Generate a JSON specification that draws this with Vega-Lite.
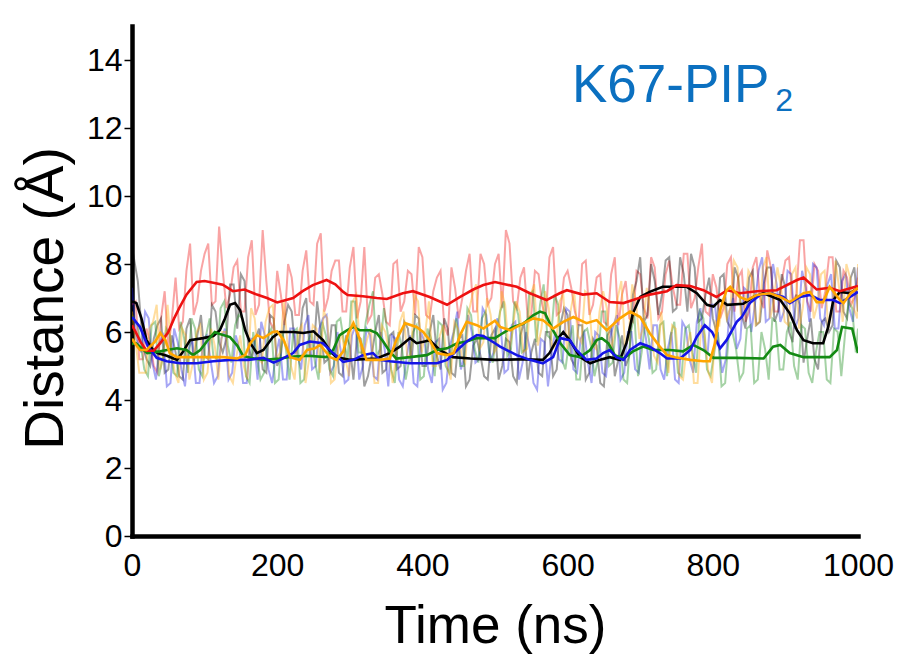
{
  "$schema": "https://vega.github.io/schema/vega-lite/v6.json",
  "width": 726,
  "height": 510,
  "autosize": {"type": "none"},
  "padding": {"left": 132, "top": 26, "right": 42, "bottom": 119},
  "background": "white",
  "config": {"view": {"stroke": null}, "font": "Liberation Sans"},
  "datasets": {
    "raw": [
      {"t":0,"d":6.8,"s":"run4"},{"t":10,"d":5.2,"s":"run4"},{"t":20,"d":6.1,"s":"run4"},{"t":30,"d":5.0,"s":"run4"},{"t":40,"d":6.4,"s":"run4"},{"t":50,"d":5.5,"s":"run4"},{"t":60,"d":7.6,"s":"run4"},{"t":70,"d":6.3,"s":"run4"},{"t":80,"d":8.6,"s":"run4"},{"t":90,"d":6.9,"s":"run4"},
      {"t":100,"d":8.3,"s":"run4"},{"t":110,"d":6.8,"s":"run4"},{"t":120,"d":9.1,"s":"run4"},{"t":130,"d":6.7,"s":"run4"},{"t":140,"d":7.9,"s":"run4"},{"t":150,"d":6.6,"s":"run4"},{"t":160,"d":8.2,"s":"run4"},{"t":170,"d":6.5,"s":"run4"},{"t":180,"d":9.0,"s":"run4"},{"t":190,"d":6.3,"s":"run4"},
      {"t":200,"d":7.8,"s":"run4"},{"t":210,"d":6.2,"s":"run4"},{"t":220,"d":7.6,"s":"run4"},{"t":230,"d":6.5,"s":"run4"},{"t":240,"d":8.4,"s":"run4"},{"t":250,"d":6.8,"s":"run4"},{"t":260,"d":8.9,"s":"run4"},{"t":270,"d":7.0,"s":"run4"},{"t":280,"d":8.1,"s":"run4"},{"t":290,"d":6.6,"s":"run4"},
      {"t":300,"d":7.9,"s":"run4"},{"t":310,"d":6.4,"s":"run4"},{"t":320,"d":8.5,"s":"run4"},{"t":330,"d":6.5,"s":"run4"},{"t":340,"d":7.7,"s":"run4"},{"t":350,"d":6.3,"s":"run4"},{"t":360,"d":8.0,"s":"run4"},{"t":370,"d":6.6,"s":"run4"},{"t":380,"d":7.8,"s":"run4"},{"t":390,"d":6.5,"s":"run4"},
      {"t":400,"d":8.2,"s":"run4"},{"t":410,"d":6.4,"s":"run4"},{"t":420,"d":7.6,"s":"run4"},{"t":430,"d":6.2,"s":"run4"},{"t":440,"d":7.9,"s":"run4"},{"t":450,"d":6.4,"s":"run4"},{"t":460,"d":7.8,"s":"run4"},{"t":470,"d":6.6,"s":"run4"},{"t":480,"d":8.3,"s":"run4"},{"t":490,"d":6.8,"s":"run4"},
      {"t":500,"d":8.0,"s":"run4"},{"t":510,"d":6.7,"s":"run4"},{"t":520,"d":8.6,"s":"run4"},{"t":530,"d":6.7,"s":"run4"},{"t":540,"d":7.9,"s":"run4"},{"t":550,"d":6.5,"s":"run4"},{"t":560,"d":7.7,"s":"run4"},{"t":570,"d":6.4,"s":"run4"},{"t":580,"d":8.5,"s":"run4"},{"t":590,"d":6.6,"s":"run4"},
      {"t":600,"d":7.8,"s":"run4"},{"t":610,"d":6.6,"s":"run4"},{"t":620,"d":8.0,"s":"run4"},{"t":630,"d":6.5,"s":"run4"},{"t":640,"d":7.6,"s":"run4"},{"t":650,"d":6.3,"s":"run4"},{"t":660,"d":7.7,"s":"run4"},{"t":670,"d":6.2,"s":"run4"},{"t":680,"d":7.5,"s":"run4"},{"t":690,"d":6.3,"s":"run4"},
      {"t":700,"d":7.7,"s":"run4"},{"t":710,"d":6.4,"s":"run4"},{"t":720,"d":7.9,"s":"run4"},{"t":730,"d":6.6,"s":"run4"},{"t":740,"d":8.1,"s":"run4"},{"t":750,"d":6.8,"s":"run4"},{"t":760,"d":8.3,"s":"run4"},{"t":770,"d":6.7,"s":"run4"},{"t":780,"d":7.9,"s":"run4"},{"t":790,"d":6.6,"s":"run4"},
      {"t":800,"d":7.7,"s":"run4"},{"t":810,"d":6.4,"s":"run4"},{"t":820,"d":8.0,"s":"run4"},{"t":830,"d":6.6,"s":"run4"},{"t":840,"d":7.8,"s":"run4"},{"t":850,"d":6.6,"s":"run4"},{"t":860,"d":8.2,"s":"run4"},{"t":870,"d":6.7,"s":"run4"},{"t":880,"d":7.9,"s":"run4"},{"t":890,"d":6.6,"s":"run4"},
      {"t":900,"d":8.1,"s":"run4"},{"t":910,"d":6.9,"s":"run4"},{"t":920,"d":8.7,"s":"run4"},{"t":930,"d":6.9,"s":"run4"},{"t":940,"d":8.0,"s":"run4"},{"t":950,"d":6.7,"s":"run4"},{"t":960,"d":8.2,"s":"run4"},{"t":970,"d":6.6,"s":"run4"},{"t":980,"d":7.8,"s":"run4"},{"t":990,"d":6.8,"s":"run4"},{"t":1000,"d":7.6,"s":"run4"},
      {"t":5,"d":6.9,"s":"run4"},{"t":15,"d":5.2,"s":"run4"},{"t":25,"d":5.7,"s":"run4"},{"t":35,"d":4.8,"s":"run4"},{"t":45,"d":7.2,"s":"run4"},{"t":55,"d":6.4,"s":"run4"},{"t":65,"d":6.1,"s":"run4"},{"t":75,"d":7.8,"s":"run4"},{"t":85,"d":6.5,"s":"run4"},{"t":95,"d":7.8,"s":"run4"},
      {"t":105,"d":8.6,"s":"run4"},{"t":115,"d":6.9,"s":"run4"},{"t":125,"d":7.8,"s":"run4"},{"t":135,"d":7.1,"s":"run4"},{"t":145,"d":8.1,"s":"run4"},{"t":155,"d":6.6,"s":"run4"},{"t":165,"d":8.7,"s":"run4"},{"t":175,"d":6.8,"s":"run4"},{"t":185,"d":7.5,"s":"run4"},{"t":195,"d":6.1,"s":"run4"},
      {"t":205,"d":7.1,"s":"run4"},{"t":215,"d":8.0,"s":"run4"},{"t":225,"d":6.5,"s":"run4"},{"t":235,"d":7.8,"s":"run4"},{"t":245,"d":6.9,"s":"run4"},{"t":255,"d":8.6,"s":"run4"},{"t":265,"d":6.6,"s":"run4"},{"t":275,"d":7.8,"s":"run4"},{"t":285,"d":8.1,"s":"run4"},{"t":295,"d":6.6,"s":"run4"},
      {"t":305,"d":8.5,"s":"run4"},{"t":315,"d":6.9,"s":"run4"},{"t":325,"d":6.3,"s":"run4"},{"t":335,"d":7.6,"s":"run4"},{"t":345,"d":7.1,"s":"run4"},{"t":355,"d":6.2,"s":"run4"},{"t":365,"d":8.1,"s":"run4"},{"t":375,"d":6.9,"s":"run4"},{"t":385,"d":7.7,"s":"run4"},{"t":395,"d":8.5,"s":"run4"},
      {"t":405,"d":6.5,"s":"run4"},{"t":415,"d":7.2,"s":"run4"},{"t":425,"d":7.8,"s":"run4"},{"t":435,"d":5.9,"s":"run4"},{"t":445,"d":7.3,"s":"run4"},{"t":455,"d":7.0,"s":"run4"},{"t":465,"d":8.3,"s":"run4"},{"t":475,"d":6.6,"s":"run4"},{"t":485,"d":8.0,"s":"run4"},{"t":495,"d":7.0,"s":"run4"},
      {"t":505,"d":8.3,"s":"run4"},{"t":515,"d":9.0,"s":"run4"},{"t":525,"d":6.9,"s":"run4"},{"t":535,"d":7.6,"s":"run4"},{"t":545,"d":6.4,"s":"run4"},{"t":555,"d":7.8,"s":"run4"},{"t":565,"d":6.8,"s":"run4"},{"t":575,"d":8.2,"s":"run4"},{"t":585,"d":6.5,"s":"run4"},{"t":595,"d":7.6,"s":"run4"},
      {"t":605,"d":7.3,"s":"run4"},{"t":615,"d":6.2,"s":"run4"},{"t":625,"d":8.1,"s":"run4"},{"t":635,"d":6.8,"s":"run4"},{"t":645,"d":7.7,"s":"run4"},{"t":655,"d":6.2,"s":"run4"},{"t":665,"d":8.2,"s":"run4"},{"t":675,"d":7.1,"s":"run4"},{"t":685,"d":6.4,"s":"run4"},{"t":695,"d":7.8,"s":"run4"},
      {"t":705,"d":6.7,"s":"run4"},{"t":715,"d":8.2,"s":"run4"},{"t":725,"d":6.4,"s":"run4"},{"t":735,"d":7.7,"s":"run4"},{"t":745,"d":7.3,"s":"run4"},{"t":755,"d":6.8,"s":"run4"},{"t":765,"d":8.3,"s":"run4"},{"t":775,"d":7.0,"s":"run4"},{"t":785,"d":8.6,"s":"run4"},{"t":795,"d":6.5,"s":"run4"},
      {"t":805,"d":7.3,"s":"run4"},{"t":815,"d":6.7,"s":"run4"},{"t":825,"d":8.2,"s":"run4"},{"t":835,"d":7.6,"s":"run4"},{"t":845,"d":6.3,"s":"run4"},{"t":855,"d":7.9,"s":"run4"},{"t":865,"d":7.0,"s":"run4"},{"t":875,"d":8.4,"s":"run4"},{"t":885,"d":6.6,"s":"run4"},{"t":895,"d":7.5,"s":"run4"},
      {"t":905,"d":8.2,"s":"run4"},{"t":915,"d":7.1,"s":"run4"},{"t":925,"d":8.7,"s":"run4"},{"t":935,"d":6.6,"s":"run4"},{"t":945,"d":7.8,"s":"run4"},{"t":955,"d":7.2,"s":"run4"},{"t":965,"d":8.2,"s":"run4"},{"t":975,"d":6.6,"s":"run4"},{"t":985,"d":7.6,"s":"run4"},{"t":995,"d":7.0,"s":"run4"},

      {"t":0,"d":8.5,"s":"run1"},{"t":15,"d":5.6,"s":"run1"},{"t":25,"d":5.0,"s":"run1"},{"t":35,"d":6.2,"s":"run1"},{"t":45,"d":4.8,"s":"run1"},{"t":55,"d":5.9,"s":"run1"},{"t":65,"d":4.7,"s":"run1"},{"t":75,"d":6.1,"s":"run1"},{"t":85,"d":5.1,"s":"run1"},{"t":95,"d":6.5,"s":"run1"},
      {"t":105,"d":5.2,"s":"run1"},{"t":115,"d":6.6,"s":"run1"},{"t":125,"d":5.4,"s":"run1"},{"t":135,"d":7.4,"s":"run1"},{"t":145,"d":6.1,"s":"run1"},{"t":155,"d":7.5,"s":"run1"},{"t":165,"d":5.2,"s":"run1"},{"t":175,"d":6.1,"s":"run1"},{"t":185,"d":4.8,"s":"run1"},{"t":195,"d":6.4,"s":"run1"},
      {"t":205,"d":5.3,"s":"run1"},{"t":215,"d":6.8,"s":"run1"},{"t":225,"d":5.4,"s":"run1"},{"t":235,"d":6.7,"s":"run1"},{"t":245,"d":5.3,"s":"run1"},{"t":255,"d":6.9,"s":"run1"},{"t":265,"d":5.1,"s":"run1"},{"t":275,"d":6.2,"s":"run1"},{"t":285,"d":4.8,"s":"run1"},{"t":295,"d":5.9,"s":"run1"},
      {"t":305,"d":4.6,"s":"run1"},{"t":315,"d":5.8,"s":"run1"},{"t":325,"d":4.7,"s":"run1"},{"t":335,"d":6.0,"s":"run1"},{"t":345,"d":4.8,"s":"run1"},{"t":355,"d":5.9,"s":"run1"},{"t":365,"d":4.9,"s":"run1"},{"t":375,"d":6.3,"s":"run1"},{"t":385,"d":5.1,"s":"run1"},{"t":395,"d":6.4,"s":"run1"},
      {"t":405,"d":5.0,"s":"run1"},{"t":415,"d":6.5,"s":"run1"},{"t":425,"d":4.9,"s":"run1"},{"t":435,"d":6.1,"s":"run1"},{"t":445,"d":4.7,"s":"run1"},{"t":455,"d":5.9,"s":"run1"},{"t":465,"d":4.6,"s":"run1"},{"t":475,"d":5.8,"s":"run1"},{"t":485,"d":4.7,"s":"run1"},{"t":495,"d":5.9,"s":"run1"},
      {"t":505,"d":4.6,"s":"run1"},{"t":515,"d":5.8,"s":"run1"},{"t":525,"d":4.7,"s":"run1"},{"t":535,"d":5.9,"s":"run1"},{"t":545,"d":4.6,"s":"run1"},{"t":555,"d":5.8,"s":"run1"},{"t":565,"d":4.7,"s":"run1"},{"t":575,"d":6.0,"s":"run1"},{"t":585,"d":4.9,"s":"run1"},{"t":595,"d":6.7,"s":"run1"},
      {"t":605,"d":5.2,"s":"run1"},{"t":615,"d":6.2,"s":"run1"},{"t":625,"d":4.6,"s":"run1"},{"t":635,"d":5.8,"s":"run1"},{"t":645,"d":4.5,"s":"run1"},{"t":655,"d":5.9,"s":"run1"},{"t":665,"d":4.7,"s":"run1"},{"t":675,"d":5.9,"s":"run1"},{"t":685,"d":5.3,"s":"run1"},{"t":695,"d":7.5,"s":"run1"},
      {"t":705,"d":6.3,"s":"run1"},{"t":715,"d":8.0,"s":"run1"},{"t":725,"d":6.5,"s":"run1"},{"t":735,"d":8.1,"s":"run1"},{"t":745,"d":6.6,"s":"run1"},{"t":755,"d":8.2,"s":"run1"},{"t":765,"d":6.6,"s":"run1"},{"t":775,"d":7.9,"s":"run1"},{"t":785,"d":6.4,"s":"run1"},{"t":795,"d":7.6,"s":"run1"},
      {"t":805,"d":6.0,"s":"run1"},{"t":815,"d":7.7,"s":"run1"},{"t":825,"d":6.1,"s":"run1"},{"t":835,"d":7.6,"s":"run1"},{"t":845,"d":6.1,"s":"run1"},{"t":855,"d":7.8,"s":"run1"},{"t":865,"d":6.3,"s":"run1"},{"t":875,"d":7.9,"s":"run1"},{"t":885,"d":6.3,"s":"run1"},{"t":895,"d":7.7,"s":"run1"},
      {"t":905,"d":6.0,"s":"run1"},{"t":915,"d":7.1,"s":"run1"},{"t":925,"d":5.1,"s":"run1"},{"t":935,"d":6.4,"s":"run1"},{"t":945,"d":4.9,"s":"run1"},{"t":955,"d":6.4,"s":"run1"},{"t":965,"d":6.2,"s":"run1"},{"t":975,"d":7.9,"s":"run1"},{"t":985,"d":6.4,"s":"run1"},{"t":995,"d":7.9,"s":"run1"},{"t":1000,"d":6.6,"s":"run1"},
      {"t":8,"d":7.5,"s":"run1"},{"t":20,"d":5.2,"s":"run1"},{"t":30,"d":5.8,"s":"run1"},{"t":40,"d":6.4,"s":"run1"},{"t":50,"d":4.9,"s":"run1"},{"t":60,"d":5.4,"s":"run1"},{"t":70,"d":4.6,"s":"run1"},{"t":80,"d":6.4,"s":"run1"},{"t":90,"d":5.9,"s":"run1"},{"t":100,"d":5.3,"s":"run1"},
      {"t":110,"d":6.8,"s":"run1"},{"t":120,"d":5.7,"s":"run1"},{"t":130,"d":5.8,"s":"run1"},{"t":140,"d":7.4,"s":"run1"},{"t":150,"d":7.7,"s":"run1"},{"t":160,"d":5.6,"s":"run1"},{"t":170,"d":5.8,"s":"run1"},{"t":180,"d":4.9,"s":"run1"},{"t":190,"d":6.5,"s":"run1"},{"t":200,"d":5.0,"s":"run1"},
      {"t":210,"d":6.3,"s":"run1"},{"t":220,"d":6.6,"s":"run1"},{"t":230,"d":5.6,"s":"run1"},{"t":240,"d":7.0,"s":"run1"},{"t":250,"d":5.3,"s":"run1"},{"t":260,"d":6.0,"s":"run1"},{"t":270,"d":5.2,"s":"run1"},{"t":280,"d":6.2,"s":"run1"},{"t":290,"d":4.7,"s":"run1"},{"t":300,"d":5.6,"s":"run1"},
      {"t":310,"d":5.9,"s":"run1"},{"t":320,"d":4.4,"s":"run1"},{"t":330,"d":5.3,"s":"run1"},{"t":340,"d":6.5,"s":"run1"},{"t":350,"d":4.9,"s":"run1"},{"t":360,"d":6.0,"s":"run1"},{"t":370,"d":5.0,"s":"run1"},{"t":380,"d":6.1,"s":"run1"},{"t":390,"d":6.5,"s":"run1"},{"t":400,"d":5.0,"s":"run1"},
      {"t":410,"d":6.0,"s":"run1"},{"t":420,"d":5.3,"s":"run1"},{"t":430,"d":6.4,"s":"run1"},{"t":440,"d":4.8,"s":"run1"},{"t":450,"d":5.8,"s":"run1"},{"t":460,"d":4.4,"s":"run1"},{"t":470,"d":5.6,"s":"run1"},{"t":480,"d":5.3,"s":"run1"},{"t":490,"d":4.6,"s":"run1"},{"t":500,"d":6.1,"s":"run1"},
      {"t":510,"d":5.0,"s":"run1"},{"t":520,"d":5.7,"s":"run1"},{"t":530,"d":4.5,"s":"run1"},{"t":540,"d":6.3,"s":"run1"},{"t":550,"d":5.4,"s":"run1"},{"t":560,"d":4.8,"s":"run1"},{"t":570,"d":6.0,"s":"run1"},{"t":580,"d":4.7,"s":"run1"},{"t":590,"d":6.2,"s":"run1"},{"t":600,"d":6.5,"s":"run1"},
      {"t":610,"d":5.0,"s":"run1"},{"t":620,"d":6.2,"s":"run1"},{"t":630,"d":4.8,"s":"run1"},{"t":640,"d":5.6,"s":"run1"},{"t":650,"d":4.4,"s":"run1"},{"t":660,"d":6.1,"s":"run1"},{"t":670,"d":5.2,"s":"run1"},{"t":680,"d":5.0,"s":"run1"},{"t":690,"d":7.1,"s":"run1"},{"t":700,"d":8.2,"s":"run1"},
      {"t":710,"d":6.5,"s":"run1"},{"t":720,"d":7.5,"s":"run1"},{"t":730,"d":7.1,"s":"run1"},{"t":740,"d":8.2,"s":"run1"},{"t":750,"d":6.7,"s":"run1"},{"t":760,"d":7.7,"s":"run1"},{"t":770,"d":8.3,"s":"run1"},{"t":780,"d":6.3,"s":"run1"},{"t":790,"d":7.1,"s":"run1"},{"t":800,"d":6.4,"s":"run1"},
      {"t":810,"d":7.6,"s":"run1"},{"t":820,"d":6.3,"s":"run1"},{"t":830,"d":7.9,"s":"run1"},{"t":840,"d":6.5,"s":"run1"},{"t":850,"d":7.6,"s":"run1"},{"t":860,"d":6.2,"s":"run1"},{"t":870,"d":7.4,"s":"run1"},{"t":880,"d":7.9,"s":"run1"},{"t":890,"d":6.6,"s":"run1"},{"t":900,"d":7.3,"s":"run1"},
      {"t":910,"d":5.7,"s":"run1"},{"t":920,"d":6.8,"s":"run1"},{"t":930,"d":5.8,"s":"run1"},{"t":940,"d":5.2,"s":"run1"},{"t":950,"d":6.3,"s":"run1"},{"t":960,"d":6.0,"s":"run1"},{"t":970,"d":8.1,"s":"run1"},{"t":980,"d":6.6,"s":"run1"},{"t":990,"d":7.6,"s":"run1"},

      {"t":0,"d":7.3,"s":"run3"},{"t":13,"d":5.4,"s":"run3"},{"t":23,"d":6.4,"s":"run3"},{"t":33,"d":4.6,"s":"run3"},{"t":43,"d":5.9,"s":"run3"},{"t":53,"d":4.5,"s":"run3"},{"t":63,"d":5.7,"s":"run3"},{"t":73,"d":4.4,"s":"run3"},{"t":83,"d":5.8,"s":"run3"},{"t":93,"d":4.5,"s":"run3"},
      {"t":103,"d":5.9,"s":"run3"},{"t":113,"d":4.5,"s":"run3"},{"t":123,"d":5.8,"s":"run3"},{"t":133,"d":4.6,"s":"run3"},{"t":143,"d":5.9,"s":"run3"},{"t":153,"d":4.5,"s":"run3"},{"t":163,"d":5.8,"s":"run3"},{"t":173,"d":4.6,"s":"run3"},{"t":183,"d":5.9,"s":"run3"},{"t":193,"d":4.5,"s":"run3"},
      {"t":203,"d":5.8,"s":"run3"},{"t":213,"d":4.6,"s":"run3"},{"t":223,"d":6.1,"s":"run3"},{"t":233,"d":4.9,"s":"run3"},{"t":243,"d":6.5,"s":"run3"},{"t":253,"d":5.0,"s":"run3"},{"t":263,"d":6.4,"s":"run3"},{"t":273,"d":4.8,"s":"run3"},{"t":283,"d":6.0,"s":"run3"},{"t":293,"d":4.5,"s":"run3"},
      {"t":303,"d":5.9,"s":"run3"},{"t":313,"d":4.6,"s":"run3"},{"t":323,"d":6.1,"s":"run3"},{"t":333,"d":4.7,"s":"run3"},{"t":343,"d":6.0,"s":"run3"},{"t":353,"d":4.4,"s":"run3"},{"t":363,"d":5.8,"s":"run3"},{"t":373,"d":4.4,"s":"run3"},{"t":383,"d":5.9,"s":"run3"},{"t":393,"d":4.4,"s":"run3"},
      {"t":403,"d":5.7,"s":"run3"},{"t":413,"d":4.5,"s":"run3"},{"t":423,"d":5.8,"s":"run3"},{"t":433,"d":4.5,"s":"run3"},{"t":443,"d":6.0,"s":"run3"},{"t":453,"d":4.9,"s":"run3"},{"t":463,"d":6.5,"s":"run3"},{"t":473,"d":5.1,"s":"run3"},{"t":483,"d":6.7,"s":"run3"},{"t":493,"d":5.1,"s":"run3"},
      {"t":503,"d":6.4,"s":"run3"},{"t":513,"d":4.8,"s":"run3"},{"t":523,"d":6.2,"s":"run3"},{"t":533,"d":4.6,"s":"run3"},{"t":543,"d":6.0,"s":"run3"},{"t":553,"d":4.5,"s":"run3"},{"t":563,"d":5.8,"s":"run3"},{"t":573,"d":4.4,"s":"run3"},{"t":583,"d":6.0,"s":"run3"},{"t":593,"d":5.1,"s":"run3"},
      {"t":603,"d":6.6,"s":"run3"},{"t":613,"d":4.8,"s":"run3"},{"t":623,"d":6.0,"s":"run3"},{"t":633,"d":4.5,"s":"run3"},{"t":643,"d":5.9,"s":"run3"},{"t":653,"d":4.7,"s":"run3"},{"t":663,"d":6.2,"s":"run3"},{"t":673,"d":4.6,"s":"run3"},{"t":683,"d":6.0,"s":"run3"},{"t":693,"d":4.9,"s":"run3"},
      {"t":703,"d":6.4,"s":"run3"},{"t":713,"d":4.9,"s":"run3"},{"t":723,"d":6.2,"s":"run3"},{"t":733,"d":4.6,"s":"run3"},{"t":743,"d":6.0,"s":"run3"},{"t":753,"d":4.5,"s":"run3"},{"t":763,"d":6.1,"s":"run3"},{"t":773,"d":4.8,"s":"run3"},{"t":783,"d":6.7,"s":"run3"},{"t":793,"d":5.4,"s":"run3"},
      {"t":803,"d":6.8,"s":"run3"},{"t":813,"d":4.8,"s":"run3"},{"t":823,"d":6.6,"s":"run3"},{"t":833,"d":5.5,"s":"run3"},{"t":843,"d":7.3,"s":"run3"},{"t":853,"d":6.0,"s":"run3"},{"t":863,"d":7.8,"s":"run3"},{"t":873,"d":6.3,"s":"run3"},{"t":883,"d":8.0,"s":"run3"},{"t":893,"d":6.3,"s":"run3"},
      {"t":903,"d":7.8,"s":"run3"},{"t":913,"d":6.1,"s":"run3"},{"t":923,"d":7.8,"s":"run3"},{"t":933,"d":6.3,"s":"run3"},{"t":943,"d":7.9,"s":"run3"},{"t":953,"d":6.2,"s":"run3"},{"t":963,"d":7.7,"s":"run3"},{"t":973,"d":6.1,"s":"run3"},{"t":983,"d":7.7,"s":"run3"},{"t":993,"d":6.3,"s":"run3"},{"t":1000,"d":7.9,"s":"run3"},
      {"t":6,"d":5.8,"s":"run3"},{"t":18,"d":6.6,"s":"run3"},{"t":28,"d":5.1,"s":"run3"},{"t":38,"d":5.7,"s":"run3"},{"t":48,"d":4.4,"s":"run3"},{"t":58,"d":6.1,"s":"run3"},{"t":68,"d":4.9,"s":"run3"},{"t":78,"d":5.5,"s":"run3"},{"t":88,"d":4.5,"s":"run3"},{"t":98,"d":5.8,"s":"run3"},
      {"t":108,"d":5.2,"s":"run3"},{"t":118,"d":4.7,"s":"run3"},{"t":128,"d":6.1,"s":"run3"},{"t":138,"d":4.8,"s":"run3"},{"t":148,"d":5.5,"s":"run3"},{"t":158,"d":4.5,"s":"run3"},{"t":168,"d":5.8,"s":"run3"},{"t":178,"d":6.3,"s":"run3"},{"t":188,"d":4.9,"s":"run3"},{"t":198,"d":5.3,"s":"run3"},
      {"t":208,"d":4.6,"s":"run3"},{"t":218,"d":6.1,"s":"run3"},{"t":228,"d":5.3,"s":"run3"},{"t":238,"d":6.2,"s":"run3"},{"t":248,"d":4.9,"s":"run3"},{"t":258,"d":6.1,"s":"run3"},{"t":268,"d":6.5,"s":"run3"},{"t":278,"d":5.0,"s":"run3"},{"t":288,"d":5.4,"s":"run3"},{"t":298,"d":4.6,"s":"run3"},
      {"t":308,"d":6.2,"s":"run3"},{"t":318,"d":5.0,"s":"run3"},{"t":328,"d":5.9,"s":"run3"},{"t":338,"d":4.6,"s":"run3"},{"t":348,"d":5.5,"s":"run3"},{"t":358,"d":5.9,"s":"run3"},{"t":368,"d":4.6,"s":"run3"},{"t":378,"d":5.2,"s":"run3"},{"t":388,"d":4.5,"s":"run3"},{"t":398,"d":6.0,"s":"run3"},
      {"t":408,"d":4.9,"s":"run3"},{"t":418,"d":5.7,"s":"run3"},{"t":428,"d":4.3,"s":"run3"},{"t":438,"d":5.6,"s":"run3"},{"t":448,"d":6.6,"s":"run3"},{"t":458,"d":5.3,"s":"run3"},{"t":468,"d":6.0,"s":"run3"},{"t":478,"d":5.2,"s":"run3"},{"t":488,"d":6.5,"s":"run3"},{"t":498,"d":5.4,"s":"run3"},
      {"t":508,"d":6.1,"s":"run3"},{"t":518,"d":4.9,"s":"run3"},{"t":528,"d":6.3,"s":"run3"},{"t":538,"d":5.1,"s":"run3"},{"t":548,"d":5.5,"s":"run3"},{"t":558,"d":4.3,"s":"run3"},{"t":568,"d":5.7,"s":"run3"},{"t":578,"d":5.4,"s":"run3"},{"t":588,"d":5.2,"s":"run3"},{"t":598,"d":6.7,"s":"run3"},
      {"t":608,"d":4.9,"s":"run3"},{"t":618,"d":5.8,"s":"run3"},{"t":628,"d":5.1,"s":"run3"},{"t":638,"d":6.0,"s":"run3"},{"t":648,"d":4.8,"s":"run3"},{"t":658,"d":5.8,"s":"run3"},{"t":668,"d":6.5,"s":"run3"},{"t":678,"d":4.8,"s":"run3"},{"t":688,"d":6.0,"s":"run3"},{"t":698,"d":4.8,"s":"run3"},
      {"t":708,"d":5.8,"s":"run3"},{"t":718,"d":6.2,"s":"run3"},{"t":728,"d":4.9,"s":"run3"},{"t":738,"d":5.5,"s":"run3"},{"t":748,"d":4.6,"s":"run3"},{"t":758,"d":6.3,"s":"run3"},{"t":768,"d":5.2,"s":"run3"},{"t":778,"d":6.3,"s":"run3"},{"t":788,"d":5.5,"s":"run3"},{"t":798,"d":6.8,"s":"run3"},
      {"t":808,"d":5.7,"s":"run3"},{"t":818,"d":5.2,"s":"run3"},{"t":828,"d":7.0,"s":"run3"},{"t":838,"d":5.8,"s":"run3"},{"t":848,"d":7.2,"s":"run3"},{"t":858,"d":6.8,"s":"run3"},{"t":868,"d":8.2,"s":"run3"},{"t":878,"d":6.4,"s":"run3"},{"t":888,"d":7.4,"s":"run3"},{"t":898,"d":6.6,"s":"run3"},
      {"t":908,"d":7.7,"s":"run3"},{"t":918,"d":6.4,"s":"run3"},{"t":928,"d":7.3,"s":"run3"},{"t":938,"d":8.0,"s":"run3"},{"t":948,"d":6.4,"s":"run3"},{"t":958,"d":7.4,"s":"run3"},{"t":968,"d":6.1,"s":"run3"},{"t":978,"d":7.5,"s":"run3"},{"t":988,"d":6.7,"s":"run3"},

      {"t":0,"d":6.5,"s":"run2"},{"t":17,"d":4.9,"s":"run2"},{"t":27,"d":6.2,"s":"run2"},{"t":37,"d":4.7,"s":"run2"},{"t":47,"d":6.1,"s":"run2"},{"t":57,"d":4.8,"s":"run2"},{"t":67,"d":6.3,"s":"run2"},{"t":77,"d":4.8,"s":"run2"},{"t":87,"d":6.1,"s":"run2"},{"t":97,"d":4.7,"s":"run2"},
      {"t":107,"d":6.4,"s":"run2"},{"t":117,"d":5.2,"s":"run2"},{"t":127,"d":6.9,"s":"run2"},{"t":137,"d":5.1,"s":"run2"},{"t":147,"d":6.5,"s":"run2"},{"t":157,"d":4.7,"s":"run2"},{"t":167,"d":6.0,"s":"run2"},{"t":177,"d":4.6,"s":"run2"},{"t":187,"d":5.9,"s":"run2"},{"t":197,"d":4.5,"s":"run2"},
      {"t":207,"d":6.0,"s":"run2"},{"t":217,"d":4.6,"s":"run2"},{"t":227,"d":6.1,"s":"run2"},{"t":237,"d":4.6,"s":"run2"},{"t":247,"d":6.0,"s":"run2"},{"t":257,"d":4.6,"s":"run2"},{"t":267,"d":5.9,"s":"run2"},{"t":277,"d":4.7,"s":"run2"},{"t":287,"d":6.4,"s":"run2"},{"t":297,"d":5.2,"s":"run2"},
      {"t":307,"d":6.9,"s":"run2"},{"t":317,"d":5.4,"s":"run2"},{"t":327,"d":6.8,"s":"run2"},{"t":337,"d":5.3,"s":"run2"},{"t":347,"d":6.7,"s":"run2"},{"t":357,"d":4.9,"s":"run2"},{"t":367,"d":6.0,"s":"run2"},{"t":377,"d":4.6,"s":"run2"},{"t":387,"d":6.0,"s":"run2"},{"t":397,"d":4.6,"s":"run2"},
      {"t":407,"d":6.1,"s":"run2"},{"t":417,"d":4.7,"s":"run2"},{"t":427,"d":6.2,"s":"run2"},{"t":437,"d":4.8,"s":"run2"},{"t":447,"d":6.4,"s":"run2"},{"t":457,"d":5.0,"s":"run2"},{"t":467,"d":6.5,"s":"run2"},{"t":477,"d":5.1,"s":"run2"},{"t":487,"d":6.6,"s":"run2"},{"t":497,"d":5.1,"s":"run2"},
      {"t":507,"d":6.6,"s":"run2"},{"t":517,"d":5.3,"s":"run2"},{"t":527,"d":6.9,"s":"run2"},{"t":537,"d":5.4,"s":"run2"},{"t":547,"d":7.1,"s":"run2"},{"t":557,"d":5.7,"s":"run2"},{"t":567,"d":7.4,"s":"run2"},{"t":577,"d":5.8,"s":"run2"},{"t":587,"d":6.8,"s":"run2"},{"t":597,"d":4.9,"s":"run2"},
      {"t":607,"d":6.2,"s":"run2"},{"t":617,"d":4.6,"s":"run2"},{"t":627,"d":6.1,"s":"run2"},{"t":637,"d":4.7,"s":"run2"},{"t":647,"d":6.6,"s":"run2"},{"t":657,"d":5.0,"s":"run2"},{"t":667,"d":6.2,"s":"run2"},{"t":677,"d":4.6,"s":"run2"},{"t":687,"d":6.0,"s":"run2"},{"t":697,"d":4.7,"s":"run2"},
      {"t":707,"d":6.3,"s":"run2"},{"t":717,"d":4.8,"s":"run2"},{"t":727,"d":6.2,"s":"run2"},{"t":737,"d":4.7,"s":"run2"},{"t":747,"d":6.3,"s":"run2"},{"t":757,"d":4.7,"s":"run2"},{"t":767,"d":6.2,"s":"run2"},{"t":777,"d":4.8,"s":"run2"},{"t":787,"d":6.4,"s":"run2"},{"t":797,"d":4.7,"s":"run2"},
      {"t":807,"d":6.0,"s":"run2"},{"t":817,"d":4.5,"s":"run2"},{"t":827,"d":6.0,"s":"run2"},{"t":837,"d":4.6,"s":"run2"},{"t":847,"d":6.1,"s":"run2"},{"t":857,"d":4.5,"s":"run2"},{"t":867,"d":6.0,"s":"run2"},{"t":877,"d":4.6,"s":"run2"},{"t":887,"d":6.3,"s":"run2"},{"t":897,"d":4.9,"s":"run2"},
      {"t":907,"d":6.3,"s":"run2"},{"t":917,"d":4.6,"s":"run2"},{"t":927,"d":6.1,"s":"run2"},{"t":937,"d":4.5,"s":"run2"},{"t":947,"d":6.0,"s":"run2"},{"t":957,"d":4.6,"s":"run2"},{"t":967,"d":6.1,"s":"run2"},{"t":977,"d":4.7,"s":"run2"},{"t":987,"d":6.9,"s":"run2"},{"t":997,"d":5.4,"s":"run2"},{"t":1000,"d":6.1,"s":"run2"},
      {"t":8,"d":6.2,"s":"run2"},{"t":22,"d":4.7,"s":"run2"},{"t":32,"d":6.3,"s":"run2"},{"t":42,"d":5.2,"s":"run2"},{"t":52,"d":5.9,"s":"run2"},{"t":62,"d":4.7,"s":"run2"},{"t":72,"d":5.8,"s":"run2"},{"t":82,"d":6.4,"s":"run2"},{"t":92,"d":4.9,"s":"run2"},{"t":102,"d":5.9,"s":"run2"},
      {"t":112,"d":5.3,"s":"run2"},{"t":122,"d":6.7,"s":"run2"},{"t":132,"d":5.6,"s":"run2"},{"t":142,"d":6.2,"s":"run2"},{"t":152,"d":6.4,"s":"run2"},{"t":162,"d":4.5,"s":"run2"},{"t":172,"d":5.3,"s":"run2"},{"t":182,"d":4.8,"s":"run2"},{"t":192,"d":6.1,"s":"run2"},{"t":202,"d":4.6,"s":"run2"},
      {"t":212,"d":5.5,"s":"run2"},{"t":222,"d":6.0,"s":"run2"},{"t":232,"d":4.5,"s":"run2"},{"t":242,"d":5.7,"s":"run2"},{"t":252,"d":5.1,"s":"run2"},{"t":262,"d":6.3,"s":"run2"},{"t":272,"d":4.9,"s":"run2"},{"t":282,"d":6.3,"s":"run2"},{"t":292,"d":5.7,"s":"run2"},{"t":302,"d":6.9,"s":"run2"},
      {"t":312,"d":5.4,"s":"run2"},{"t":322,"d":6.3,"s":"run2"},{"t":332,"d":7.2,"s":"run2"},{"t":342,"d":5.5,"s":"run2"},{"t":352,"d":6.0,"s":"run2"},{"t":362,"d":4.5,"s":"run2"},{"t":372,"d":5.5,"s":"run2"},{"t":382,"d":5.2,"s":"run2"},{"t":392,"d":6.2,"s":"run2"},{"t":402,"d":4.7,"s":"run2"},
      {"t":412,"d":5.8,"s":"run2"},{"t":422,"d":6.3,"s":"run2"},{"t":432,"d":5.0,"s":"run2"},{"t":442,"d":5.8,"s":"run2"},{"t":452,"d":5.0,"s":"run2"},{"t":462,"d":6.7,"s":"run2"},{"t":472,"d":5.5,"s":"run2"},{"t":482,"d":6.4,"s":"run2"},{"t":492,"d":5.4,"s":"run2"},{"t":502,"d":6.0,"s":"run2"},
      {"t":512,"d":6.9,"s":"run2"},{"t":522,"d":5.5,"s":"run2"},{"t":532,"d":6.5,"s":"run2"},{"t":542,"d":5.5,"s":"run2"},{"t":552,"d":7.2,"s":"run2"},{"t":562,"d":6.8,"s":"run2"},{"t":572,"d":5.9,"s":"run2"},{"t":582,"d":7.1,"s":"run2"},{"t":592,"d":5.2,"s":"run2"},{"t":602,"d":5.7,"s":"run2"},
      {"t":612,"d":4.6,"s":"run2"},{"t":622,"d":6.0,"s":"run2"},{"t":632,"d":5.6,"s":"run2"},{"t":642,"d":5.2,"s":"run2"},{"t":652,"d":6.6,"s":"run2"},{"t":662,"d":5.1,"s":"run2"},{"t":672,"d":5.8,"s":"run2"},{"t":682,"d":4.5,"s":"run2"},{"t":692,"d":6.5,"s":"run2"},{"t":702,"d":5.4,"s":"run2"},
      {"t":712,"d":5.8,"s":"run2"},{"t":722,"d":4.9,"s":"run2"},{"t":732,"d":6.3,"s":"run2"},{"t":742,"d":5.9,"s":"run2"},{"t":752,"d":4.8,"s":"run2"},{"t":762,"d":6.1,"s":"run2"},{"t":772,"d":5.4,"s":"run2"},{"t":782,"d":6.6,"s":"run2"},{"t":792,"d":4.9,"s":"run2"},{"t":802,"d":5.4,"s":"run2"},
      {"t":812,"d":4.4,"s":"run2"},{"t":822,"d":5.9,"s":"run2"},{"t":832,"d":5.5,"s":"run2"},{"t":842,"d":4.8,"s":"run2"},{"t":852,"d":6.2,"s":"run2"},{"t":862,"d":4.6,"s":"run2"},{"t":872,"d":5.5,"s":"run2"},{"t":882,"d":6.4,"s":"run2"},{"t":892,"d":4.9,"s":"run2"},{"t":902,"d":6.0,"s":"run2"},
      {"t":912,"d":5.0,"s":"run2"},{"t":922,"d":6.2,"s":"run2"},{"t":932,"d":4.8,"s":"run2"},{"t":942,"d":5.4,"s":"run2"},{"t":952,"d":6.0,"s":"run2"},{"t":962,"d":4.5,"s":"run2"},{"t":972,"d":6.0,"s":"run2"},{"t":982,"d":5.9,"s":"run2"},{"t":992,"d":6.7,"s":"run2"},

      {"t":0,"d":6.6,"s":"run5"},{"t":19,"d":4.8,"s":"run5"},{"t":29,"d":6.3,"s":"run5"},{"t":39,"d":4.9,"s":"run5"},{"t":49,"d":6.8,"s":"run5"},{"t":59,"d":4.8,"s":"run5"},{"t":69,"d":6.1,"s":"run5"},{"t":79,"d":4.6,"s":"run5"},{"t":89,"d":6.0,"s":"run5"},{"t":99,"d":4.6,"s":"run5"},
      {"t":109,"d":6.1,"s":"run5"},{"t":119,"d":4.6,"s":"run5"},{"t":129,"d":6.0,"s":"run5"},{"t":139,"d":4.5,"s":"run5"},{"t":149,"d":5.9,"s":"run5"},{"t":159,"d":4.6,"s":"run5"},{"t":169,"d":6.4,"s":"run5"},{"t":179,"d":5.1,"s":"run5"},{"t":189,"d":6.7,"s":"run5"},{"t":199,"d":5.2,"s":"run5"},
      {"t":209,"d":6.9,"s":"run5"},{"t":219,"d":5.0,"s":"run5"},{"t":229,"d":6.0,"s":"run5"},{"t":239,"d":4.5,"s":"run5"},{"t":249,"d":6.2,"s":"run5"},{"t":259,"d":4.8,"s":"run5"},{"t":269,"d":6.4,"s":"run5"},{"t":279,"d":4.6,"s":"run5"},{"t":289,"d":6.0,"s":"run5"},{"t":299,"d":4.7,"s":"run5"},
      {"t":309,"d":7.1,"s":"run5"},{"t":319,"d":5.3,"s":"run5"},{"t":329,"d":6.1,"s":"run5"},{"t":339,"d":4.5,"s":"run5"},{"t":349,"d":6.0,"s":"run5"},{"t":359,"d":4.5,"s":"run5"},{"t":369,"d":6.3,"s":"run5"},{"t":379,"d":5.3,"s":"run5"},{"t":389,"d":7.1,"s":"run5"},{"t":399,"d":5.4,"s":"run5"},
      {"t":409,"d":6.9,"s":"run5"},{"t":419,"d":5.0,"s":"run5"},{"t":429,"d":6.2,"s":"run5"},{"t":439,"d":4.6,"s":"run5"},{"t":449,"d":6.1,"s":"run5"},{"t":459,"d":5.1,"s":"run5"},{"t":469,"d":7.1,"s":"run5"},{"t":479,"d":5.5,"s":"run5"},{"t":489,"d":7.0,"s":"run5"},{"t":499,"d":5.4,"s":"run5"},
      {"t":509,"d":7.2,"s":"run5"},{"t":519,"d":5.4,"s":"run5"},{"t":529,"d":6.9,"s":"run5"},{"t":539,"d":5.4,"s":"run5"},{"t":549,"d":7.1,"s":"run5"},{"t":559,"d":5.6,"s":"run5"},{"t":569,"d":7.2,"s":"run5"},{"t":579,"d":5.5,"s":"run5"},{"t":589,"d":6.9,"s":"run5"},{"t":599,"d":5.5,"s":"run5"},
      {"t":609,"d":7.2,"s":"run5"},{"t":619,"d":5.7,"s":"run5"},{"t":629,"d":7.1,"s":"run5"},{"t":639,"d":5.5,"s":"run5"},{"t":649,"d":7.2,"s":"run5"},{"t":659,"d":5.4,"s":"run5"},{"t":669,"d":7.0,"s":"run5"},{"t":679,"d":5.6,"s":"run5"},{"t":689,"d":7.4,"s":"run5"},{"t":699,"d":5.8,"s":"run5"},
      {"t":709,"d":7.3,"s":"run5"},{"t":719,"d":5.3,"s":"run5"},{"t":729,"d":6.6,"s":"run5"},{"t":739,"d":4.8,"s":"run5"},{"t":749,"d":6.1,"s":"run5"},{"t":759,"d":4.6,"s":"run5"},{"t":769,"d":6.0,"s":"run5"},{"t":779,"d":4.5,"s":"run5"},{"t":789,"d":5.9,"s":"run5"},{"t":799,"d":4.5,"s":"run5"},
      {"t":809,"d":6.2,"s":"run5"},{"t":819,"d":6.4,"s":"run5"},{"t":829,"d":8.1,"s":"run5"},{"t":839,"d":6.4,"s":"run5"},{"t":849,"d":7.8,"s":"run5"},{"t":859,"d":6.2,"s":"run5"},{"t":869,"d":7.9,"s":"run5"},{"t":879,"d":6.4,"s":"run5"},{"t":889,"d":7.9,"s":"run5"},{"t":899,"d":6.3,"s":"run5"},
      {"t":909,"d":7.7,"s":"run5"},{"t":919,"d":6.1,"s":"run5"},{"t":929,"d":7.9,"s":"run5"},{"t":939,"d":6.4,"s":"run5"},{"t":949,"d":7.7,"s":"run5"},{"t":959,"d":6.1,"s":"run5"},{"t":969,"d":8.1,"s":"run5"},{"t":979,"d":6.3,"s":"run5"},{"t":989,"d":7.6,"s":"run5"},{"t":999,"d":6.4,"s":"run5"},{"t":1000,"d":8.0,"s":"run5"},
      {"t":10,"d":4.8,"s":"run5"},{"t":24,"d":6.1,"s":"run5"},{"t":34,"d":6.8,"s":"run5"},{"t":44,"d":5.4,"s":"run5"},{"t":54,"d":5.5,"s":"run5"},{"t":64,"d":4.5,"s":"run5"},{"t":74,"d":5.9,"s":"run5"},{"t":84,"d":5.1,"s":"run5"},{"t":94,"d":6.2,"s":"run5"},{"t":104,"d":4.8,"s":"run5"},
      {"t":114,"d":5.6,"s":"run5"},{"t":124,"d":6.0,"s":"run5"},{"t":134,"d":4.7,"s":"run5"},{"t":144,"d":5.3,"s":"run5"},{"t":154,"d":5.0,"s":"run5"},{"t":164,"d":6.7,"s":"run5"},{"t":174,"d":5.2,"s":"run5"},{"t":184,"d":6.3,"s":"run5"},{"t":194,"d":6.8,"s":"run5"},{"t":204,"d":5.4,"s":"run5"},
      {"t":214,"d":5.7,"s":"run5"},{"t":224,"d":4.6,"s":"run5"},{"t":234,"d":6.2,"s":"run5"},{"t":244,"d":5.2,"s":"run5"},{"t":254,"d":6.1,"s":"run5"},{"t":264,"d":6.6,"s":"run5"},{"t":274,"d":4.5,"s":"run5"},{"t":284,"d":5.5,"s":"run5"},{"t":294,"d":5.2,"s":"run5"},{"t":304,"d":6.9,"s":"run5"},
      {"t":314,"d":5.6,"s":"run5"},{"t":324,"d":5.8,"s":"run5"},{"t":334,"d":4.5,"s":"run5"},{"t":344,"d":6.2,"s":"run5"},{"t":354,"d":5.4,"s":"run5"},{"t":364,"d":5.3,"s":"run5"},{"t":374,"d":6.6,"s":"run5"},{"t":384,"d":5.3,"s":"run5"},{"t":394,"d":6.9,"s":"run5"},{"t":404,"d":6.0,"s":"run5"},
      {"t":414,"d":5.0,"s":"run5"},{"t":424,"d":5.9,"s":"run5"},{"t":434,"d":5.0,"s":"run5"},{"t":444,"d":6.3,"s":"run5"},{"t":454,"d":5.3,"s":"run5"},{"t":464,"d":6.6,"s":"run5"},{"t":474,"d":7.4,"s":"run5"},{"t":484,"d":5.7,"s":"run5"},{"t":494,"d":6.5,"s":"run5"},{"t":504,"d":5.6,"s":"run5"},
      {"t":514,"d":6.8,"s":"run5"},{"t":524,"d":6.0,"s":"run5"},{"t":534,"d":6.6,"s":"run5"},{"t":544,"d":5.5,"s":"run5"},{"t":554,"d":7.4,"s":"run5"},{"t":564,"d":6.1,"s":"run5"},{"t":574,"d":6.7,"s":"run5"},{"t":584,"d":5.6,"s":"run5"},{"t":594,"d":7.1,"s":"run5"},{"t":604,"d":6.6,"s":"run5"},
      {"t":614,"d":5.9,"s":"run5"},{"t":624,"d":7.2,"s":"run5"},{"t":634,"d":5.6,"s":"run5"},{"t":644,"d":6.6,"s":"run5"},{"t":654,"d":6.7,"s":"run5"},{"t":664,"d":5.9,"s":"run5"},{"t":674,"d":7.5,"s":"run5"},{"t":684,"d":5.8,"s":"run5"},{"t":694,"d":6.9,"s":"run5"},{"t":704,"d":6.1,"s":"run5"},
      {"t":714,"d":6.6,"s":"run5"},{"t":724,"d":5.1,"s":"run5"},{"t":734,"d":5.6,"s":"run5"},{"t":744,"d":6.2,"s":"run5"},{"t":754,"d":4.7,"s":"run5"},{"t":764,"d":5.5,"s":"run5"},{"t":774,"d":4.5,"s":"run5"},{"t":784,"d":6.2,"s":"run5"},{"t":794,"d":4.8,"s":"run5"},{"t":804,"d":6.3,"s":"run5"},
      {"t":814,"d":7.0,"s":"run5"},{"t":824,"d":6.7,"s":"run5"},{"t":834,"d":7.9,"s":"run5"},{"t":844,"d":6.6,"s":"run5"},{"t":854,"d":7.6,"s":"run5"},{"t":864,"d":6.3,"s":"run5"},{"t":874,"d":8.2,"s":"run5"},{"t":884,"d":6.9,"s":"run5"},{"t":894,"d":7.3,"s":"run5"},{"t":904,"d":6.2,"s":"run5"},
      {"t":914,"d":7.9,"s":"run5"},{"t":924,"d":6.7,"s":"run5"},{"t":934,"d":7.7,"s":"run5"},{"t":944,"d":6.8,"s":"run5"},{"t":954,"d":7.8,"s":"run5"},{"t":964,"d":6.6,"s":"run5"},{"t":974,"d":7.3,"s":"run5"},{"t":984,"d":8.0,"s":"run5"},{"t":994,"d":6.7,"s":"run5"}
    ],
    "avg": [
      {"t":0,"d":6.9,"s":"run1"},{"t":6,"d":6.85,"s":"run1"},{"t":13,"d":6.4,"s":"run1"},{"t":20,"d":5.76,"s":"run1"},{"t":28,"d":5.5,"s":"run1"},{"t":35,"d":5.38,"s":"run1"},{"t":48,"d":5.3,"s":"run1"},{"t":62,"d":5.18,"s":"run1"},{"t":69,"d":5.38,"s":"run1"},{"t":80,"d":5.76,"s":"run1"},
      {"t":98,"d":5.82,"s":"run1"},{"t":112,"d":5.88,"s":"run1"},{"t":121,"d":6.05,"s":"run1"},{"t":128,"d":6.4,"s":"run1"},{"t":135,"d":6.8,"s":"run1"},{"t":142,"d":6.85,"s":"run1"},{"t":149,"d":6.64,"s":"run1"},{"t":156,"d":6.05,"s":"run1"},{"t":163,"d":5.67,"s":"run1"},{"t":172,"d":5.38,"s":"run1"},
      {"t":181,"d":5.47,"s":"run1"},{"t":194,"d":5.85,"s":"run1"},{"t":204,"d":6.0,"s":"run1"},{"t":222,"d":6.0,"s":"run1"},{"t":236,"d":5.97,"s":"run1"},{"t":250,"d":6.02,"s":"run1"},{"t":263,"d":5.76,"s":"run1"},{"t":274,"d":5.4,"s":"run1"},{"t":282,"d":5.26,"s":"run1"},{"t":300,"d":5.18,"s":"run1"},
      {"t":337,"d":5.22,"s":"run1"},{"t":355,"d":5.38,"s":"run1"},{"t":369,"d":5.57,"s":"run1"},{"t":383,"d":5.82,"s":"run1"},{"t":392,"d":5.67,"s":"run1"},{"t":403,"d":5.72,"s":"run1"},{"t":410,"d":5.76,"s":"run1"},{"t":424,"d":5.47,"s":"run1"},{"t":442,"d":5.26,"s":"run1"},{"t":466,"d":5.22,"s":"run1"},
      {"t":500,"d":5.18,"s":"run1"},{"t":540,"d":5.2,"s":"run1"},{"t":566,"d":5.18,"s":"run1"},{"t":575,"d":5.38,"s":"run1"},{"t":585,"d":5.76,"s":"run1"},{"t":594,"d":6.0,"s":"run1"},{"t":603,"d":5.76,"s":"run1"},{"t":617,"d":5.26,"s":"run1"},{"t":631,"d":5.08,"s":"run1"},{"t":644,"d":5.18,"s":"run1"},
      {"t":658,"d":5.26,"s":"run1"},{"t":672,"d":5.18,"s":"run1"},{"t":681,"d":5.67,"s":"run1"},{"t":690,"d":6.55,"s":"run1"},{"t":700,"d":7.03,"s":"run1"},{"t":713,"d":7.18,"s":"run1"},{"t":731,"d":7.33,"s":"run1"},{"t":748,"d":7.33,"s":"run1"},{"t":764,"d":7.33,"s":"run1"},{"t":778,"d":7.14,"s":"run1"},
      {"t":792,"d":6.8,"s":"run1"},{"t":801,"d":6.75,"s":"run1"},{"t":810,"d":6.94,"s":"run1"},{"t":820,"d":6.8,"s":"run1"},{"t":842,"d":6.83,"s":"run1"},{"t":856,"d":7.03,"s":"run1"},{"t":870,"d":7.14,"s":"run1"},{"t":893,"d":6.94,"s":"run1"},{"t":906,"d":6.55,"s":"run1"},{"t":916,"d":6.05,"s":"run1"},
      {"t":925,"d":5.76,"s":"run1"},{"t":938,"d":5.67,"s":"run1"},{"t":952,"d":5.67,"s":"run1"},{"t":959,"d":6.15,"s":"run1"},{"t":966,"d":6.94,"s":"run1"},{"t":975,"d":7.18,"s":"run1"},{"t":989,"d":7.14,"s":"run1"},{"t":1000,"d":7.3,"s":"run1"},

      {"t":0,"d":5.65,"s":"run2"},{"t":5,"d":5.67,"s":"run2"},{"t":21,"d":5.38,"s":"run2"},{"t":39,"d":5.43,"s":"run2"},{"t":48,"d":5.47,"s":"run2"},{"t":62,"d":5.52,"s":"run2"},{"t":75,"d":5.47,"s":"run2"},{"t":84,"d":5.32,"s":"run2"},{"t":94,"d":5.47,"s":"run2"},{"t":103,"d":5.72,"s":"run2"},
      {"t":114,"d":6.0,"s":"run2"},{"t":121,"d":5.94,"s":"run2"},{"t":135,"d":5.85,"s":"run2"},{"t":145,"d":5.6,"s":"run2"},{"t":153,"d":5.3,"s":"run2"},{"t":163,"d":5.24,"s":"run2"},{"t":181,"d":5.18,"s":"run2"},{"t":204,"d":5.22,"s":"run2"},{"t":222,"d":5.28,"s":"run2"},{"t":241,"d":5.3,"s":"run2"},
      {"t":268,"d":5.26,"s":"run2"},{"t":277,"d":5.47,"s":"run2"},{"t":286,"d":5.91,"s":"run2"},{"t":296,"d":6.05,"s":"run2"},{"t":305,"d":6.15,"s":"run2"},{"t":314,"d":6.05,"s":"run2"},{"t":328,"d":6.05,"s":"run2"},{"t":337,"d":5.97,"s":"run2"},{"t":346,"d":5.72,"s":"run2"},{"t":355,"d":5.43,"s":"run2"},
      {"t":364,"d":5.22,"s":"run2"},{"t":383,"d":5.26,"s":"run2"},{"t":406,"d":5.32,"s":"run2"},{"t":420,"d":5.47,"s":"run2"},{"t":434,"d":5.52,"s":"run2"},{"t":448,"d":5.67,"s":"run2"},{"t":461,"d":5.72,"s":"run2"},{"t":475,"d":5.82,"s":"run2"},{"t":500,"d":5.82,"s":"run2"},{"t":511,"d":5.97,"s":"run2"},
      {"t":525,"d":6.15,"s":"run2"},{"t":539,"d":6.24,"s":"run2"},{"t":553,"d":6.5,"s":"run2"},{"t":562,"d":6.6,"s":"run2"},{"t":569,"d":6.55,"s":"run2"},{"t":580,"d":6.05,"s":"run2"},{"t":590,"d":5.67,"s":"run2"},{"t":603,"d":5.32,"s":"run2"},{"t":617,"d":5.26,"s":"run2"},{"t":631,"d":5.47,"s":"run2"},
      {"t":640,"d":5.76,"s":"run2"},{"t":647,"d":5.82,"s":"run2"},{"t":656,"d":5.67,"s":"run2"},{"t":665,"d":5.32,"s":"run2"},{"t":677,"d":5.22,"s":"run2"},{"t":690,"d":5.43,"s":"run2"},{"t":704,"d":5.57,"s":"run2"},{"t":718,"d":5.47,"s":"run2"},{"t":741,"d":5.47,"s":"run2"},{"t":759,"d":5.43,"s":"run2"},
      {"t":773,"d":5.62,"s":"run2"},{"t":787,"d":5.47,"s":"run2"},{"t":801,"d":5.24,"s":"run2"},{"t":833,"d":5.24,"s":"run2"},{"t":870,"d":5.22,"s":"run2"},{"t":883,"d":5.57,"s":"run2"},{"t":893,"d":5.62,"s":"run2"},{"t":906,"d":5.38,"s":"run2"},{"t":925,"d":5.26,"s":"run2"},{"t":961,"d":5.26,"s":"run2"},
      {"t":971,"d":5.47,"s":"run2"},{"t":978,"d":6.15,"s":"run2"},{"t":992,"d":6.1,"s":"run2"},{"t":1000,"d":5.38,"s":"run2"},

      {"t":0,"d":6.44,"s":"run3"},{"t":11,"d":6.15,"s":"run3"},{"t":22,"d":5.57,"s":"run3"},{"t":34,"d":5.24,"s":"run3"},{"t":48,"d":5.14,"s":"run3"},{"t":66,"d":5.08,"s":"run3"},{"t":89,"d":5.08,"s":"run3"},{"t":112,"d":5.14,"s":"run3"},{"t":135,"d":5.18,"s":"run3"},{"t":160,"d":5.18,"s":"run3"},
      {"t":181,"d":5.24,"s":"run3"},{"t":195,"d":5.1,"s":"run3"},{"t":204,"d":5.18,"s":"run3"},{"t":222,"d":5.38,"s":"run3"},{"t":231,"d":5.62,"s":"run3"},{"t":245,"d":5.72,"s":"run3"},{"t":263,"d":5.67,"s":"run3"},{"t":277,"d":5.38,"s":"run3"},{"t":291,"d":5.12,"s":"run3"},{"t":305,"d":5.18,"s":"run3"},
      {"t":318,"d":5.32,"s":"run3"},{"t":332,"d":5.38,"s":"run3"},{"t":341,"d":5.18,"s":"run3"},{"t":355,"d":5.14,"s":"run3"},{"t":383,"d":5.08,"s":"run3"},{"t":420,"d":5.08,"s":"run3"},{"t":434,"d":5.18,"s":"run3"},{"t":448,"d":5.47,"s":"run3"},{"t":461,"d":5.72,"s":"run3"},{"t":475,"d":5.91,"s":"run3"},
      {"t":484,"d":5.88,"s":"run3"},{"t":500,"d":5.67,"s":"run3"},{"t":507,"d":5.57,"s":"run3"},{"t":530,"d":5.32,"s":"run3"},{"t":548,"d":5.18,"s":"run3"},{"t":566,"d":5.08,"s":"run3"},{"t":580,"d":5.26,"s":"run3"},{"t":590,"d":5.82,"s":"run3"},{"t":603,"d":5.76,"s":"run3"},{"t":612,"d":5.47,"s":"run3"},
      {"t":626,"d":5.18,"s":"run3"},{"t":640,"d":5.22,"s":"run3"},{"t":649,"d":5.38,"s":"run3"},{"t":658,"d":5.47,"s":"run3"},{"t":667,"d":5.26,"s":"run3"},{"t":677,"d":5.18,"s":"run3"},{"t":686,"d":5.47,"s":"run3"},{"t":700,"d":5.67,"s":"run3"},{"t":713,"d":5.57,"s":"run3"},{"t":727,"d":5.38,"s":"run3"},
      {"t":737,"d":5.22,"s":"run3"},{"t":755,"d":5.22,"s":"run3"},{"t":769,"d":5.47,"s":"run3"},{"t":778,"d":5.86,"s":"run3"},{"t":789,"d":6.2,"s":"run3"},{"t":799,"d":6.0,"s":"run3"},{"t":810,"d":5.52,"s":"run3"},{"t":819,"d":5.76,"s":"run3"},{"t":833,"d":6.3,"s":"run3"},{"t":840,"d":6.44,"s":"run3"},
      {"t":851,"d":6.85,"s":"run3"},{"t":865,"d":7.09,"s":"run3"},{"t":879,"d":7.14,"s":"run3"},{"t":897,"d":7.03,"s":"run3"},{"t":906,"d":6.85,"s":"run3"},{"t":920,"d":7.03,"s":"run3"},{"t":934,"d":7.09,"s":"run3"},{"t":948,"d":6.94,"s":"run3"},{"t":966,"d":6.94,"s":"run3"},{"t":975,"d":6.85,"s":"run3"},
      {"t":989,"d":7.03,"s":"run3"},{"t":1000,"d":7.18,"s":"run3"},

      {"t":0,"d":6.2,"s":"run4"},{"t":5,"d":6.0,"s":"run4"},{"t":12,"d":5.7,"s":"run4"},{"t":20,"d":5.45,"s":"run4"},{"t":30,"d":5.45,"s":"run4"},{"t":40,"d":5.7,"s":"run4"},{"t":50,"d":6.0,"s":"run4"},{"t":58,"d":6.4,"s":"run4"},{"t":65,"d":6.7,"s":"run4"},{"t":75,"d":7.1,"s":"run4"},
      {"t":89,"d":7.47,"s":"run4"},{"t":100,"d":7.5,"s":"run4"},{"t":112,"d":7.45,"s":"run4"},{"t":125,"d":7.39,"s":"run4"},{"t":139,"d":7.2,"s":"run4"},{"t":155,"d":7.25,"s":"run4"},{"t":172,"d":7.1,"s":"run4"},{"t":186,"d":7.0,"s":"run4"},{"t":200,"d":6.87,"s":"run4"},{"t":222,"d":7.0,"s":"run4"},
      {"t":235,"d":7.2,"s":"run4"},{"t":249,"d":7.38,"s":"run4"},{"t":268,"d":7.53,"s":"run4"},{"t":280,"d":7.4,"s":"run4"},{"t":291,"d":7.18,"s":"run4"},{"t":297,"d":7.09,"s":"run4"},{"t":318,"d":7.05,"s":"run4"},{"t":337,"d":7.0,"s":"run4"},{"t":351,"d":6.97,"s":"run4"},{"t":373,"d":7.14,"s":"run4"},
      {"t":387,"d":7.2,"s":"run4"},{"t":410,"d":7.03,"s":"run4"},{"t":434,"d":6.8,"s":"run4"},{"t":452,"d":7.03,"s":"run4"},{"t":470,"d":7.25,"s":"run4"},{"t":484,"d":7.38,"s":"run4"},{"t":500,"d":7.47,"s":"run4"},{"t":515,"d":7.4,"s":"run4"},{"t":530,"d":7.33,"s":"run4"},{"t":548,"d":7.14,"s":"run4"},
      {"t":571,"d":6.94,"s":"run4"},{"t":589,"d":7.14,"s":"run4"},{"t":599,"d":7.23,"s":"run4"},{"t":621,"d":7.1,"s":"run4"},{"t":640,"d":7.14,"s":"run4"},{"t":658,"d":6.88,"s":"run4"},{"t":677,"d":6.85,"s":"run4"},{"t":690,"d":6.94,"s":"run4"},{"t":713,"d":7.1,"s":"run4"},{"t":737,"d":7.2,"s":"run4"},
      {"t":750,"d":7.38,"s":"run4"},{"t":769,"d":7.35,"s":"run4"},{"t":787,"d":7.23,"s":"run4"},{"t":805,"d":7.03,"s":"run4"},{"t":820,"d":7.23,"s":"run4"},{"t":837,"d":7.14,"s":"run4"},{"t":861,"d":7.2,"s":"run4"},{"t":888,"d":7.23,"s":"run4"},{"t":916,"d":7.53,"s":"run4"},{"t":925,"d":7.6,"s":"run4"},
      {"t":943,"d":7.25,"s":"run4"},{"t":961,"d":7.3,"s":"run4"},{"t":975,"d":7.2,"s":"run4"},{"t":1000,"d":7.35,"s":"run4"},

      {"t":0,"d":5.8,"s":"run5"},{"t":4,"d":5.67,"s":"run5"},{"t":11,"d":5.47,"s":"run5"},{"t":20,"d":5.47,"s":"run5"},{"t":32,"d":5.72,"s":"run5"},{"t":39,"d":5.97,"s":"run5"},{"t":46,"d":5.76,"s":"run5"},{"t":52,"d":5.38,"s":"run5"},{"t":62,"d":5.26,"s":"run5"},{"t":89,"d":5.26,"s":"run5"},
      {"t":126,"d":5.26,"s":"run5"},{"t":145,"d":5.22,"s":"run5"},{"t":156,"d":5.32,"s":"run5"},{"t":163,"d":5.67,"s":"run5"},{"t":172,"d":5.91,"s":"run5"},{"t":181,"d":5.82,"s":"run5"},{"t":194,"d":6.0,"s":"run5"},{"t":200,"d":6.02,"s":"run5"},{"t":209,"d":5.76,"s":"run5"},{"t":218,"d":5.26,"s":"run5"},
      {"t":231,"d":5.18,"s":"run5"},{"t":241,"d":5.47,"s":"run5"},{"t":252,"d":5.52,"s":"run5"},{"t":259,"d":5.62,"s":"run5"},{"t":273,"d":5.26,"s":"run5"},{"t":282,"d":5.18,"s":"run5"},{"t":291,"d":5.43,"s":"run5"},{"t":298,"d":5.97,"s":"run5"},{"t":305,"d":6.26,"s":"run5"},{"t":310,"d":6.0,"s":"run5"},
      {"t":314,"d":5.76,"s":"run5"},{"t":323,"d":5.18,"s":"run5"},{"t":342,"d":5.18,"s":"run5"},{"t":355,"d":5.22,"s":"run5"},{"t":364,"d":5.76,"s":"run5"},{"t":376,"d":6.26,"s":"run5"},{"t":392,"d":6.15,"s":"run5"},{"t":401,"d":6.0,"s":"run5"},{"t":410,"d":5.76,"s":"run5"},{"t":420,"d":5.38,"s":"run5"},
      {"t":434,"d":5.32,"s":"run5"},{"t":443,"d":5.38,"s":"run5"},{"t":452,"d":5.91,"s":"run5"},{"t":461,"d":6.3,"s":"run5"},{"t":475,"d":6.2,"s":"run5"},{"t":484,"d":6.1,"s":"run5"},{"t":500,"d":6.33,"s":"run5"},{"t":507,"d":6.15,"s":"run5"},{"t":521,"d":6.05,"s":"run5"},{"t":534,"d":6.2,"s":"run5"},
      {"t":553,"d":6.4,"s":"run5"},{"t":566,"d":6.35,"s":"run5"},{"t":580,"d":6.1,"s":"run5"},{"t":594,"d":6.3,"s":"run5"},{"t":608,"d":6.44,"s":"run5"},{"t":626,"d":6.26,"s":"run5"},{"t":640,"d":6.35,"s":"run5"},{"t":654,"d":6.05,"s":"run5"},{"t":672,"d":6.4,"s":"run5"},{"t":686,"d":6.6,"s":"run5"},
      {"t":700,"d":6.44,"s":"run5"},{"t":713,"d":5.97,"s":"run5"},{"t":727,"d":5.57,"s":"run5"},{"t":737,"d":5.32,"s":"run5"},{"t":748,"d":5.26,"s":"run5"},{"t":769,"d":5.18,"s":"run5"},{"t":787,"d":5.14,"s":"run5"},{"t":796,"d":5.14,"s":"run5"},{"t":803,"d":5.67,"s":"run5"},{"t":810,"d":6.64,"s":"run5"},
      {"t":819,"d":7.23,"s":"run5"},{"t":824,"d":7.33,"s":"run5"},{"t":837,"d":7.03,"s":"run5"},{"t":847,"d":6.94,"s":"run5"},{"t":861,"d":7.09,"s":"run5"},{"t":879,"d":7.14,"s":"run5"},{"t":893,"d":7.03,"s":"run5"},{"t":906,"d":6.88,"s":"run5"},{"t":925,"d":7.14,"s":"run5"},{"t":934,"d":7.18,"s":"run5"},
      {"t":943,"d":6.88,"s":"run5"},{"t":952,"d":6.88,"s":"run5"},{"t":961,"d":7.33,"s":"run5"},{"t":975,"d":6.94,"s":"run5"},{"t":980,"d":6.85,"s":"run5"},{"t":990,"d":7.14,"s":"run5"},{"t":1000,"d":7.3,"s":"run5"}
    ],
    "label": [{"main": "K67-PIP", "sub": "2"}]
  },
  "layer": [
    {
      "data": {"name": "raw"},
      "mark": {"type": "line", "strokeWidth": 2, "opacity": 0.38, "clip": true},
      "encoding": {
        "x": {
          "field": "t",
          "type": "quantitative",
          "scale": {"domain": [0, 1000], "nice": false},
          "axis": {
            "values": [0, 200, 400, 600, 800, 1000],
            "format": "d",
            "ticks": false,
            "grid": false,
            "labelFlush": false,
            "labelFontSize": 32,
            "labelPadding": 14,
            "labelColor": "black",
            "domainColor": "black",
            "domainWidth": 4.5,
            "domainCap": "square",
            "title": "Time (ns)",
            "titleFontSize": 53,
            "titleFontWeight": "normal",
            "titleColor": "black",
            "titleBaseline": "alphabetic",
            "titleX": 363,
            "titleY": 106
          }
        },
        "y": {
          "field": "d",
          "type": "quantitative",
          "scale": {"domain": [0, 15], "nice": false},
          "axis": {
            "values": [0, 2, 4, 6, 8, 10, 12, 14],
            "grid": false,
            "tickSize": 8,
            "tickWidth": 1.5,
            "tickColor": "black",
            "labelFontSize": 32,
            "labelPadding": 2,
            "labelColor": "black",
            "domainColor": "black",
            "domainWidth": 4.5,
            "domainCap": "square",
            "title": "Distance (Å)",
            "titleFontSize": 55,
            "titleFontWeight": "normal",
            "titleColor": "black",
            "titleAngle": -90,
            "titleAlign": "center",
            "titleBaseline": "alphabetic",
            "titleX": -70,
            "titleY": 272
          }
        },
        "color": {
          "field": "s",
          "type": "nominal",
          "scale": {
            "domain": ["run1", "run2", "run3", "run4", "run5"],
            "range": ["#000000", "#138a13", "#1414e6", "#ee1111", "#ffa500"]
          },
          "legend": null
        }
      }
    },
    {
      "data": {"name": "avg"},
      "mark": {"type": "line", "strokeWidth": 2.6, "clip": true},
      "encoding": {
        "x": {"field": "t", "type": "quantitative"},
        "y": {"field": "d", "type": "quantitative"},
        "color": {"field": "s", "type": "nominal"}
      }
    },
    {
      "data": {"name": "label"},
      "mark": {"type": "text", "align": "left", "baseline": "alphabetic", "fontSize": 53, "fill": "#0b70c0"},
      "encoding": {
        "x": {"datum": 606},
        "y": {"datum": 12.77},
        "text": {"field": "main"}
      }
    },
    {
      "data": {"name": "label"},
      "mark": {"type": "text", "align": "left", "baseline": "alphabetic", "fontSize": 32, "fill": "#0b70c0"},
      "encoding": {
        "x": {"datum": 886},
        "y": {"datum": 12.5},
        "text": {"field": "sub"}
      }
    }
  ]
}
